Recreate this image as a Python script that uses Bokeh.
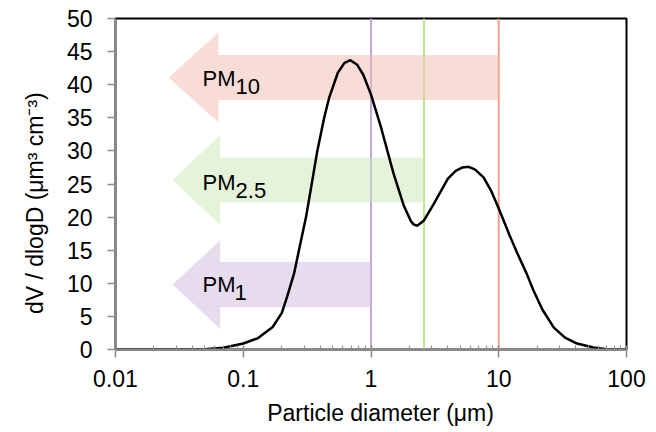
import numpy as np
from bokeh.plotting import figure
from bokeh.models import FixedTicker, CustomJSTickFormatter, Span, Range1d
from bokeh.core.properties import value
from bokeh.embed import file_html
from bokeh.resources import INLINE

FONT = "Liberation Sans"

# ---- data ----
diameter = [0.01, 0.03, 0.05, 0.07, 0.1, 0.13, 0.17, 0.2, 0.22, 0.25, 0.28, 0.31, 0.34,
            0.38, 0.43, 0.47, 0.55, 0.62, 0.69, 0.78, 0.87, 1.0, 1.2, 1.5, 1.8, 2.05, 2.15,
            2.3, 2.6, 3.1, 3.5, 4.0, 4.6, 5.2, 5.8, 6.5, 7.6, 8.7, 10, 12, 14, 16.5,
            18.7, 22, 27, 33, 41, 55, 70, 100]
dvdlogd = [0, 0, 0.05, 0.25, 0.9, 1.7, 3.4, 5.5, 7.9, 11.5, 16, 20, 24.5,
           30, 35, 38, 41.8, 43.3, 43.7, 43.0, 41.5, 38.5, 33.5, 26.6, 21.8, 19.4, 18.9,
           18.7, 19.5, 22, 23.8, 25.8, 27, 27.5, 27.6, 27.2, 26, 24, 21.3, 17.5, 14.5, 11.5,
           8.9, 6, 3.3, 1.8, 0.9, 0.3, 0.05, 0]

cutoffs = [10, 2.6, 1]
pm_subs = ["10", "2.5", "1"]
line_colors = ["#f2a28c", "#bde88f", "#c4a6de"]
arrow_colors = ["#f1bbad", "#cbe7b5", "#cdb9dd"]
arrow_tip = [0.026, 0.028, 0.028]
arrow_neck = [0.064, 0.066, 0.066]
arrow_center = [41.1, 25.6, 9.8]
arrow_body_half = [3.4, 3.4, 3.4]
arrow_head_half = [6.8, 6.8, 6.7]
label_x = [0.048, 0.048, 0.048]
label_y = [40.9, 25.3, 9.8]
sub_dx = [33, 33, 32]

x_ticks = [0.01, 0.1, 1, 10, 100]
x_minor = [m * d for d in [0.01, 0.1, 1, 10] for m in range(2, 10)]
y_ticks = list(range(0, 51, 5))

x_title = "Particle diameter (μm)"
y_title = "dV / dlogD (μm³ cm⁻³)"

# ---- figure ----
p = figure(width=656, height=432, x_axis_type="log",
           x_range=Range1d(0.01, 100), y_range=Range1d(0, 50),
           output_backend="svg", toolbar_location=None,
           min_border_left=115, min_border_right=30, min_border_top=18, min_border_bottom=83)
p.xgrid.visible = False
p.ygrid.visible = False
p.outline_line_color = "black"
p.outline_line_width = 2
p.background_fill_color = "white"
p.border_fill_color = "white"

# cutoff lines
for c, col in zip(cutoffs, line_colors):
    p.add_layout(Span(location=c, dimension="height", line_color=col, line_width=2, level="underlay"))

# arrows
xs, ys = [], []
for tip, neck, end, cy, b, h in zip(arrow_tip, arrow_neck, cutoffs, arrow_center, arrow_body_half, arrow_head_half):
    xs.append([tip, neck, neck, end, end, neck, neck])
    ys.append([cy, cy + h, cy + b, cy + b, cy - b, cy - b, cy - h])
p.patches(xs, ys, fill_color=arrow_colors, fill_alpha=0.5, line_color=None)

# labels in arrows
p.text(x=label_x, y=label_y, text=["PM"] * 3, text_font=value(FONT), text_font_size="22px",
       text_baseline="alphabetic", text_align="left", text_color="black")
p.text(x=label_x, y=label_y, text=pm_subs, x_offset=sub_dx, y_offset=8,
       text_font=value(FONT), text_font_size="22px",
       text_baseline="alphabetic", text_align="left", text_color="black")

# curve
p.line(diameter, dvdlogd, line_color="black", line_width=2.5)

# axes
grey = "#8c8c8c"
xa = p.xaxis[0]
xa.ticker = FixedTicker(ticks=x_ticks, minor_ticks=x_minor)
xa.formatter = CustomJSTickFormatter(code="return String(tick);")
xa.axis_line_color = grey
xa.axis_line_width = 2
xa.major_tick_in = 4
xa.major_tick_out = 8
xa.major_tick_line_color = grey
xa.major_tick_line_width = 1.5
xa.minor_tick_in = 4
xa.minor_tick_out = 0
xa.minor_tick_line_color = grey
xa.minor_tick_line_width = 1
xa.major_label_standoff = 12
xa.major_label_text_font = FONT
xa.major_label_text_font_size = "23px"
xa.major_label_text_color = "black"
xa.axis_label = "\u00a0" * 3 + x_title
xa.axis_label_standoff = 10
xa.axis_label_text_font = FONT
xa.axis_label_text_font_size = "23px"
xa.axis_label_text_font_style = "normal"
xa.axis_label_text_color = "black"

ya = p.yaxis[0]
ya.ticker = FixedTicker(ticks=y_ticks)
ya.axis_line_color = grey
ya.axis_line_width = 2
ya.major_tick_in = 0
ya.major_tick_out = 8
ya.major_tick_line_color = grey
ya.major_tick_line_width = 1.5
ya.minor_tick_line_color = None
ya.major_label_standoff = 15
ya.major_label_text_font = FONT
ya.major_label_text_font_size = "23px"
ya.major_label_text_color = "black"
ya.axis_label = y_title + "\u00a0" * 6
ya.axis_label_standoff = 16
ya.axis_label_text_font = FONT
ya.axis_label_text_font_size = "23px"
ya.axis_label_text_font_style = "normal"
ya.axis_label_text_color = "black"

open("out.html", "w").write(file_html(p, INLINE))
